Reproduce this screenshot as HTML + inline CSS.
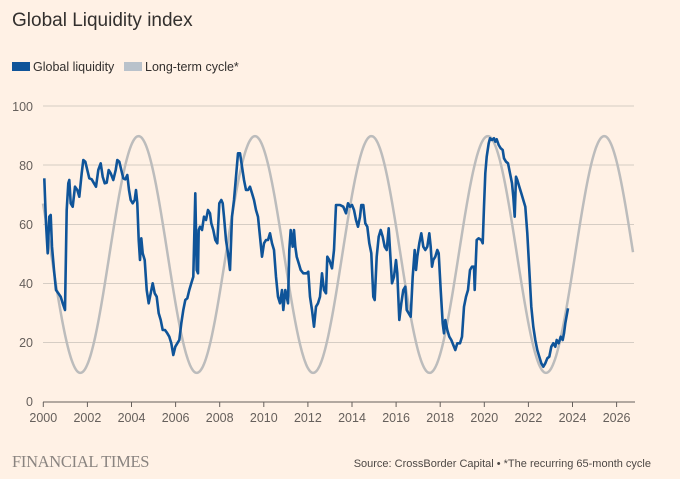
<!DOCTYPE html>
<html><head><meta charset="utf-8"><style>
body{margin:0;background:#fff1e5;}
svg{display:block;font-family:"Liberation Sans",sans-serif;}
</style></head><body>
<svg width="680" height="479" viewBox="0 0 680 479">
<rect width="680" height="479" fill="#fff1e5"/>
<text x="12" y="26" font-size="19" fill="#33302e">Global Liquidity index</text>
<rect x="12" y="62" width="18" height="9" fill="#0f5499"/>
<text x="33" y="71" font-size="12.5" fill="#33302e">Global liquidity</text>
<rect x="124" y="62" width="18" height="9" fill="#b9c2cb"/>
<text x="145" y="71" font-size="12.5" fill="#33302e">Long-term cycle*</text>
<g stroke="#d6cdc4" stroke-width="1">
<line x1="43" x2="634" y1="106" y2="106"/>
<line x1="43" x2="634" y1="165" y2="165"/>
<line x1="43" x2="634" y1="224.5" y2="224.5"/>
<line x1="43" x2="634" y1="283.5" y2="283.5"/>
<line x1="43" x2="634" y1="342.5" y2="342.5"/>
</g>
<line x1="43" x2="635" y1="402" y2="402" stroke="#66605c"/>
<g font-size="12.5" fill="#66605c" text-anchor="end">
<text x="33" y="111">100</text><text x="33" y="170">80</text><text x="33" y="229">60</text>
<text x="33" y="288">40</text><text x="33" y="347">20</text><text x="33" y="406">0</text>
</g>
<g id="xt" font-size="12.5" fill="#66605c" text-anchor="middle"></g>
<g id="tk" stroke="#66605c"></g>
<path id="sine" fill="none" stroke="#bcbcbc" stroke-width="2.5"/>
<polyline id="b1" fill="none" stroke="#0f5499" stroke-width="2.6" stroke-linejoin="round"/>
<text x="12" y="467" font-family="Liberation Serif,serif" font-size="16.5" fill="#8a8480" letter-spacing="-0.3">FINANCIAL TIMES</text>
<text x="651" y="467" font-size="11" fill="#4d4845" text-anchor="end">Source: CrossBorder Capital • *The recurring 65-month cycle</text>
</svg>
<script>
var ns="http://www.w3.org/2000/svg";
var xt=document.getElementById("xt"),tk=document.getElementById("tk");
for(var i=0;i<14;i++){var x=43.3+44.1*i;var t=document.createElementNS(ns,"text");t.setAttribute("x",x);t.setAttribute("y",422);t.textContent=2000+2*i;xt.appendChild(t);
var l=document.createElementNS(ns,"line");l.setAttribute("x1",x);l.setAttribute("x2",x);l.setAttribute("y1",402);l.setAttribute("y2",407);tk.appendChild(l);}
var d="";for(var x=43;x<=633;x+=1){var t=(x-43.3)/22.05;var v=50+40*Math.cos(2*Math.PI*(t-4.32)/5.28);d+=(x==43?"M":"L")+x+","+(402.5-2.96*v).toFixed(1);}
document.getElementById("sine").setAttribute("d",d);
var a=[133,265,138,400,143,490,148,380,152,375,156,470,162,540,168,600,175,610,182,620,188,640,195,660,200,360,205,280,208,270,212,340,218,350,225,290,232,300,238,320,245,250,250,210,256,215,262,240,268,265,275,268,282,280,288,290,295,240,302,220,308,260,314,280,320,278,326,240,332,250,340,270,347,240,352,210,358,215,364,240,370,265,376,268,382,255,387,300,392,330,398,340,404,330,408,300,412,340,416,450,420,510,424,445,428,490,434,510,440,600,446,640,452,610,458,580,464,610,470,620,476,670,482,690,488,720,495,720,502,730,508,740,514,760,520,795,526,770,532,760,538,750,544,700,550,660,556,630,562,625,568,600,574,580,580,560,586,310,590,540,594,550,596,420,600,410,606,420,612,380,618,390,624,360,630,370,634,400,640,420,646,450,652,460,658,340,664,330,668,340,672,380,678,450,684,490,690,540,696,380,702,330,708,260,714,190,720,190,726,230,732,270,738,300,744,300,750,290,756,310,762,330,768,360,774,380,780,440,786,500,792,460,798,450,804,450,810,430,816,460,822,480,828,560,834,620,840,640,846,600,850,660,856,600,860,620,864,640,868,480,872,420,878,470,882,420,886,470,890,500,896,520,902,540,910,550,920,550,925,545,930,620,936,660,942,710,948,650,954,640,960,620,966,550,972,600,978,610,982,500,988,510,996,535,1002,480,1008,345];
var b=[0,345,10,350,18,370,24,340,30,350,36,345,42,360,48,390,54,410,60,380,64,345,70,345,76,400,82,410,88,460,94,490,100,620,104,630,110,500,116,440,122,420,128,440,134,470,140,480,146,415,150,480,156,580,162,560,168,510,172,550,178,690,184,640,190,600,196,590,200,660,206,670,212,680,218,560,224,480,228,540,232,500,238,460,244,430,250,470,256,480,262,470,268,430,272,470,276,530,280,510,286,500,292,480,296,490,302,600,308,700,312,730,316,690,322,720,328,740,334,750,340,765,346,780,352,760,360,760,366,740,372,650,378,620,384,600,390,540,396,530,402,530,404,600,408,500,410,450,416,445,424,450,428,460,432,350,436,250,440,200,446,160,450,145,456,150,462,145,466,155,470,148,476,165,482,175,488,180,492,205,498,215,504,220,510,250,516,280,520,320,524,380,528,260,532,270,538,290,544,310,550,330,556,350,562,430,568,540,574,650,580,710,586,750,592,780,598,800,604,820,610,830,616,820,622,805,628,800,634,770,640,760,646,770,650,750,656,760,662,740,668,750,672,730,676,700,684,655];
var p=[];for(var i=0;i<a.length;i+=2)p.push((a[i]/3).toFixed(1)+","+(90+a[i+1]/3).toFixed(1));
for(var i=0;i<b.length;i+=2)p.push((340+b[i]/3).toFixed(1)+","+(90+b[i+1]/3).toFixed(1));
document.getElementById("b1").setAttribute("points",p.join(" "));
</script>
</body></html>
